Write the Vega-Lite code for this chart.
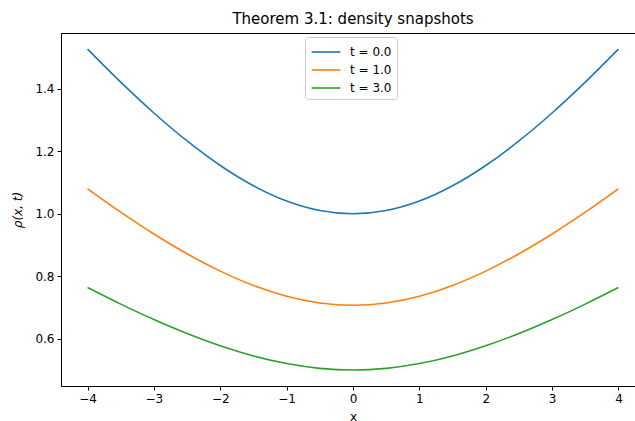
{
  "$schema": "https://vega.github.io/schema/vega-lite/v6.json",
  "width": 584,
  "height": 353,
  "autosize": {"type": "none"},
  "padding": {"left": 61, "top": 33, "right": 0, "bottom": 35},
  "background": "white",
  "title": {"text": "Theorem 3.1: density snapshots", "font": "DejaVu Sans", "fontSize": 15, "fontWeight": "normal", "color": "black", "offset": 6, "anchor": "middle"},
  "data": {"values": [
    {"x": -4, "rho": 1.52753, "s": "t = 0.0"},
    {"x": -3.5, "rho": 1.42156, "s": "t = 0.0"},
    {"x": -3, "rho": 1.32288, "s": "t = 0.0"},
    {"x": -2.5, "rho": 1.23322, "s": "t = 0.0"},
    {"x": -2, "rho": 1.1547, "s": "t = 0.0"},
    {"x": -1.5, "rho": 1.08972, "s": "t = 0.0"},
    {"x": -1, "rho": 1.04083, "s": "t = 0.0"},
    {"x": -0.5, "rho": 1.01036, "s": "t = 0.0"},
    {"x": 0, "rho": 1.0, "s": "t = 0.0"},
    {"x": 0.5, "rho": 1.01036, "s": "t = 0.0"},
    {"x": 1, "rho": 1.04083, "s": "t = 0.0"},
    {"x": 1.5, "rho": 1.08972, "s": "t = 0.0"},
    {"x": 2, "rho": 1.1547, "s": "t = 0.0"},
    {"x": 2.5, "rho": 1.23322, "s": "t = 0.0"},
    {"x": 3, "rho": 1.32288, "s": "t = 0.0"},
    {"x": 3.5, "rho": 1.42156, "s": "t = 0.0"},
    {"x": 4, "rho": 1.52753, "s": "t = 0.0"},
    {"x": -4, "rho": 1.08012, "s": "t = 1.0"},
    {"x": -3.5, "rho": 1.00519, "s": "t = 1.0"},
    {"x": -3, "rho": 0.93541, "s": "t = 1.0"},
    {"x": -2.5, "rho": 0.87202, "s": "t = 1.0"},
    {"x": -2, "rho": 0.8165, "s": "t = 1.0"},
    {"x": -1.5, "rho": 0.77055, "s": "t = 1.0"},
    {"x": -1, "rho": 0.73598, "s": "t = 1.0"},
    {"x": -0.5, "rho": 0.71443, "s": "t = 1.0"},
    {"x": 0, "rho": 0.70711, "s": "t = 1.0"},
    {"x": 0.5, "rho": 0.71443, "s": "t = 1.0"},
    {"x": 1, "rho": 0.73598, "s": "t = 1.0"},
    {"x": 1.5, "rho": 0.77055, "s": "t = 1.0"},
    {"x": 2, "rho": 0.8165, "s": "t = 1.0"},
    {"x": 2.5, "rho": 0.87202, "s": "t = 1.0"},
    {"x": 3, "rho": 0.93541, "s": "t = 1.0"},
    {"x": 3.5, "rho": 1.00519, "s": "t = 1.0"},
    {"x": 4, "rho": 1.08012, "s": "t = 1.0"},
    {"x": -4, "rho": 0.76376, "s": "t = 3.0"},
    {"x": -3.5, "rho": 0.71078, "s": "t = 3.0"},
    {"x": -3, "rho": 0.66144, "s": "t = 3.0"},
    {"x": -2.5, "rho": 0.61661, "s": "t = 3.0"},
    {"x": -2, "rho": 0.57735, "s": "t = 3.0"},
    {"x": -1.5, "rho": 0.54486, "s": "t = 3.0"},
    {"x": -1, "rho": 0.52042, "s": "t = 3.0"},
    {"x": -0.5, "rho": 0.50518, "s": "t = 3.0"},
    {"x": 0, "rho": 0.5, "s": "t = 3.0"},
    {"x": 0.5, "rho": 0.50518, "s": "t = 3.0"},
    {"x": 1, "rho": 0.52042, "s": "t = 3.0"},
    {"x": 1.5, "rho": 0.54486, "s": "t = 3.0"},
    {"x": 2, "rho": 0.57735, "s": "t = 3.0"},
    {"x": 2.5, "rho": 0.61661, "s": "t = 3.0"},
    {"x": 3, "rho": 0.66144, "s": "t = 3.0"},
    {"x": 3.5, "rho": 0.71078, "s": "t = 3.0"},
    {"x": 4, "rho": 0.76376, "s": "t = 3.0"}
  ]},
  "mark": {"type": "line", "interpolate": "monotone", "strokeWidth": 1.6, "clip": true},
  "encoding": {
    "x": {"field": "x", "type": "quantitative", "scale": {"domain": [-4.4, 4.4], "nice": false, "zero": false},
      "axis": {"title": "x", "values": [-4, -3, -2, -1, 0, 1, 2, 3, 4], "format": "d", "labelExpr": "replace(datum.label, '-', '−')", "grid": false, "tickSize": 4, "tickColor": "black", "domainColor": "black", "labelFont": "DejaVu Sans", "labelFontSize": 12, "labelColor": "black", "titleFont": "DejaVu Sans", "titleFontSize": 12, "titleFontWeight": "normal", "titleColor": "black", "titlePadding": 7, "labelPadding": 3}},
    "y": {"field": "rho", "type": "quantitative", "scale": {"domain": [0.4486, 1.579], "nice": false, "zero": false},
      "axis": {"title": "ρ(x, t)", "values": [0.6, 0.8, 1.0, 1.2, 1.4], "format": ".1f", "grid": false, "tickSize": 4, "tickColor": "black", "domainColor": "black", "labelFont": "DejaVu Sans", "labelFontSize": 12, "labelColor": "black", "titleFont": "DejaVu Sans", "titleFontSize": 12, "titleFontWeight": "normal", "titleFontStyle": "italic", "titleColor": "black", "titlePadding": 10, "labelPadding": 3}},
    "color": {"field": "s", "type": "nominal", "scale": {"domain": ["t = 0.0", "t = 1.0", "t = 3.0"], "range": ["#1f77b4", "#ff7f0e", "#2ca02c"]},
      "legend": {"title": null, "orient": "none", "legendX": 244, "legendY": 4, "symbolType": "M-1.6,0H1.6", "symbolSize": 324, "symbolStrokeWidth": 1.6, "symbolOffset": 6, "labelFont": "DejaVu Sans", "labelFontSize": 12, "labelColor": "black", "labelOffset": 14, "padding": 5, "rowPadding": 2, "strokeColor": "#cccccc", "fillColor": "rgba(255,255,255,0.8)", "cornerRadius": 3}}
  },
  "config": {"view": {"stroke": "black", "strokeWidth": 1}, "axis": {"domainWidth": 1, "tickWidth": 1}}
}
